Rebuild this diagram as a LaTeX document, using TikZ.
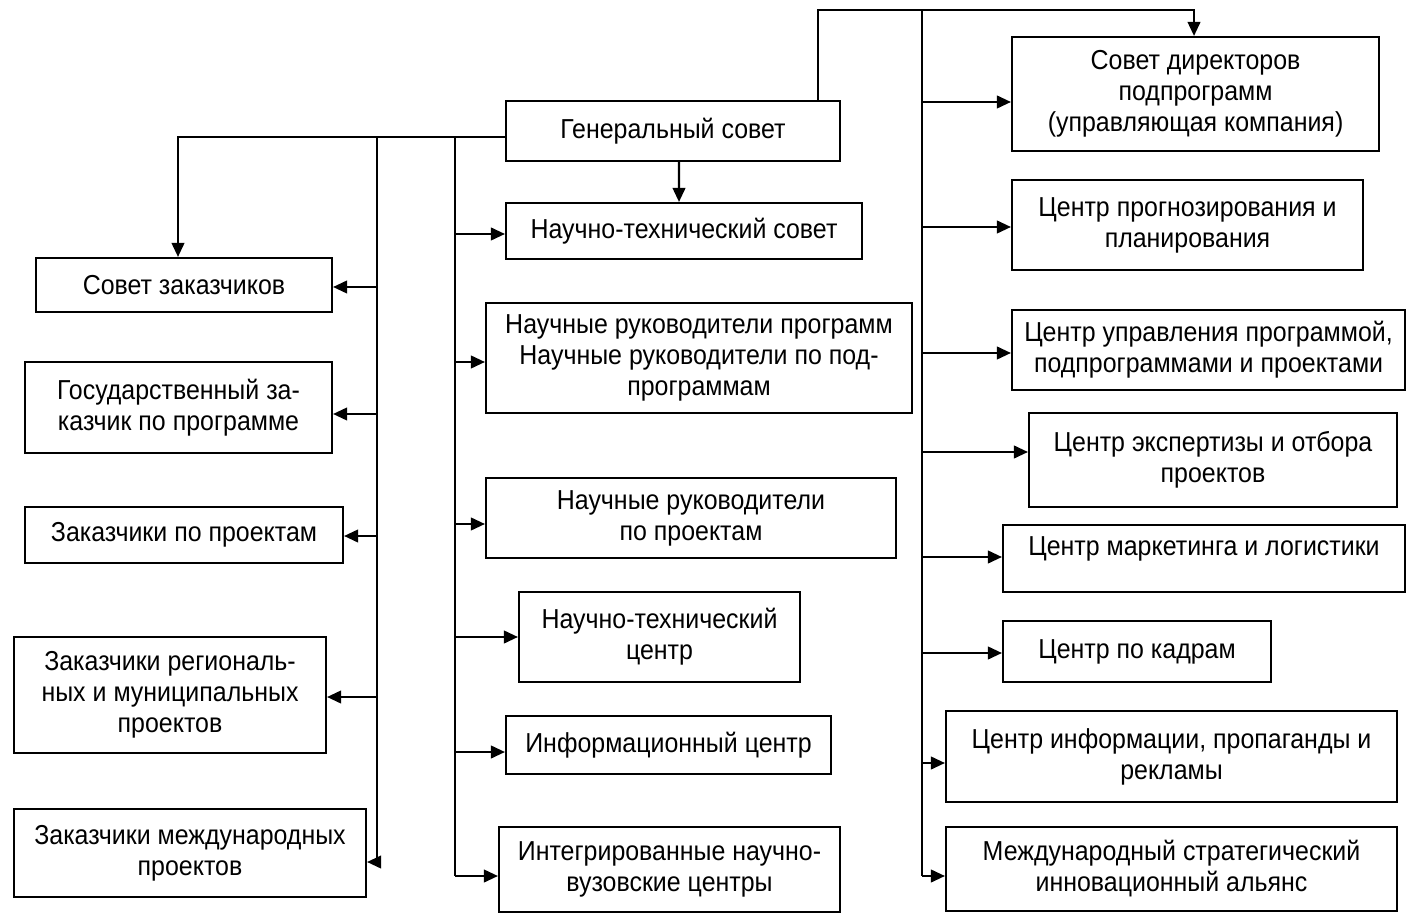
\documentclass[tikz,border=0pt]{standalone}
\usepackage{fontspec}
\setmainfont{Liberation Sans}[FakeStretch=0.91]
\usetikzlibrary{arrows.meta}

\tikzset{
    box/.style 2 args={draw, line width=0.6pt, align=center, inner sep=0pt,
        minimum width=#1cm, minimum height=#2cm,
        font=\fontsize{7.8}{8.8}\selectfont},
    arr/.style={-{Triangle[length=4pt,width=3.6pt]}, line width=0.6pt},
    trunk/.style={line width=0.6pt}
}

\begin{document}
\begin{tikzpicture}
    \useasboundingbox (0,0) rectangle (14.07,-9.13);

    % General council
    \node[box={3.34}{0.60}] (gen) at (6.73,-1.31) {Генеральный совет};

    % Customers (left column)
    \node[box={2.96}{0.54}] (sz) at (1.84,-2.85)   {Совет заказчиков};
    \node[box={3.07}{0.91}] (gz) at (1.785,-4.075) {Государственный за-\\казчик по программе};
    \node[box={3.18}{0.56}] (zp) at (1.84,-5.35)   {Заказчики по проектам};
    \node[box={3.12}{1.16}] (zr) at (1.70,-6.95)   {Заказчики региональ-\\ных и муниципальных\\проектов};
    \node[box={3.52}{0.88}] (zm) at (1.90,-8.53)   {Заказчики международных\\проектов};

    % Science (middle column)
    \node[box={3.56}{0.56}] (nts)  at (6.84,-2.31)   {Научно-технический совет};
    \node[box={4.26}{1.10}] (nrp)  at (6.99,-3.58)   {Научные руководители программ\\Научные руководители по под-\\программам};
    \node[box={4.10}{0.80}] (nrpr) at (6.91,-5.18)   {Научные руководители\\по проектам};
    \node[box={2.81}{0.90}] (ntc)  at (6.595,-6.37)  {Научно-технический\\центр};
    \node[box={3.25}{0.58}] (ic)   at (6.685,-7.45)  {Информационный центр};
    \node[box={3.41}{0.85}] (inv)  at (6.695,-8.695) {Интегрированные научно-\\вузовские центры};

    % Centres (right column)
    \node[box={3.67}{1.14}] (sd)  at (11.955,-0.94) {Совет директоров\\подпрограмм\\(управляющая компания)};
    \node[box={3.51}{0.90}] (cpp) at (11.875,-2.25) {Центр прогнозирования и\\планирования};
    \node[box={3.93}{0.80}] (cup) at (12.085,-3.50) {Центр управления программой,\\подпрограммами и проектами};
    \node[box={3.68}{0.94}] (ceo) at (12.13,-4.60)  {Центр экспертизы и отбора\\проектов};
    \node[box={4.02}{0.67}, text depth=0.24cm] (cml) at (12.04,-5.585) {Центр маркетинга и логистики};
    \node[box={2.68}{0.61}] (ck)  at (11.37,-6.515) {Центр по кадрам};
    \node[box={4.51}{0.91}] (cip) at (11.715,-7.565) {Центр информации, пропаганды и\\рекламы};
    \node[box={4.51}{0.84}] (msa) at (11.715,-8.69) {Международный стратегический\\инновационный альянс};

    % trunks
    \coordinate (ltop) at (3.77,-1.37);
    \coordinate (mtop) at (4.55,-1.37);
    \coordinate (rtop) at (9.22,-0.10);

    \foreach \n/\s in {sz/-0.02, gz/-0.065, zp/-0.01, zr/-0.02, zm/-0.09}
        \coordinate (\n-in) at ([yshift=\s cm]\n.east);
    \foreach \n/\s in {nts/-0.03, nrp/-0.04, nrpr/-0.06, ntc/0, ic/-0.07, inv/-0.065,
                       sd/-0.08, cpp/-0.02, cup/-0.03, ceo/0.08, cml/0.015, ck/-0.015, cip/-0.065, msa/-0.07}
        \coordinate (\n-in) at ([yshift=\s cm]\n.west);

    \draw[arr] ([yshift=-0.06cm]gen.west) -| ([xshift=-0.06cm]sz.north);
    \draw[arr] ([xshift=0.06cm]gen.south) -- ([xshift=-0.05cm]nts.north);
    \draw[arr] ([xshift=1.45cm]gen.north) |- (rtop) -| ([xshift=-0.015cm]sd.north);

    \draw[trunk] (ltop) -- (ltop |- zm-in);
    \draw[trunk] (mtop) -- (mtop |- inv-in);
    \draw[trunk] (rtop) -- (rtop |- msa-in);

    % branches
    \foreach \n in {sz, gz, zp, zr, zm}
        \draw[arr] (ltop |- \n-in) -- (\n-in);
    \foreach \n in {nts, nrp, nrpr, ntc, ic, inv}
        \draw[arr] (mtop |- \n-in) -- (\n-in);
    \foreach \n in {sd, cpp, cup, ceo, cml, ck, cip, msa}
        \draw[arr] (rtop |- \n-in) -- (\n-in);

\end{tikzpicture}
\end{document}
